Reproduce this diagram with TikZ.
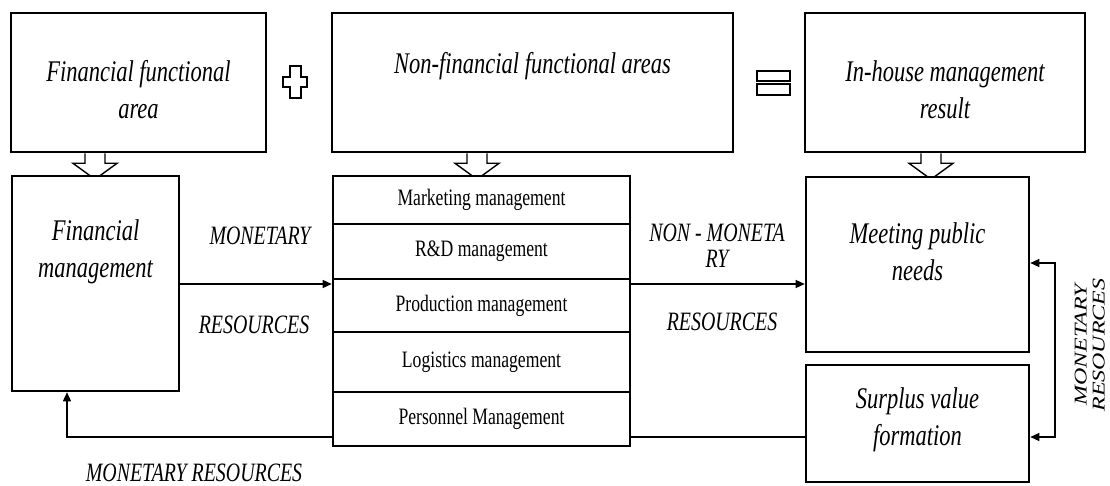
\documentclass[tikz,border=0pt]{standalone}
\usepackage{fontspec}
\setmainfont{Liberation Serif}[FakeStretch=0.75]
\newfontfamily\rotfont{Liberation Serif}
\usetikzlibrary{arrows.meta,backgrounds}
\begin{document}
\begin{tikzpicture}[x=1pt,y=-1pt,
  box/.style={draw, line width=2.6pt, fill=white, inner sep=0pt},
  itlbl/.style={font=\fontsize{30}{37}\selectfont\itshape, align=center},
  caplbl/.style={font=\fontsize{26.5}{26}\selectfont\itshape, align=center},
  rowbox/.style={draw, line width=2.6pt, fill=white, minimum width=297pt, font=\fontsize{23.5}{26}\selectfont, inner sep=0pt},
  tipa/.tip={Triangle[length=9pt,width=8pt]},
  conn/.style={line width=1.3pt, -tipa},
  hdown/.pic={\draw[line width=1.4pt, line join=miter] (-10,0) -- (-10,10) -- (-22,10) -- (0,26) -- (22,10) -- (10,10) -- (10,0);},
]
\useasboundingbox (0,0) rectangle (1110,486);
\clip (0,0) rectangle (1110,486);

% top row
\node[box, minimum width=255pt, minimum height=139pt] (fa) at (138.5,82.5) {};
\node[itlbl] (fat) at (138.5,90) {Financial functional\\area};
\node[box, minimum width=401pt, minimum height=139pt] (nfa) at (532.5,82.5) {};
\node[itlbl] (nfat) at (532.5,66) {Non-financial functional areas};
\node[box, minimum width=280pt, minimum height=139pt] (ih) at (945,82.5) {};
\node[itlbl] (iht) at (945,90) {In-house management\\result};

% plus and equals
\draw[line width=2pt] (289.5,66) -- (300.5,66) -- (300.5,77) -- (307,77) -- (307,87) -- (300.5,87) -- (300.5,98) -- (289.5,98) -- (289.5,87) -- (283,87) -- (283,77) -- (289.5,77) -- cycle;
\draw[line width=2.5pt] (757,71) rectangle (790,81);
\draw[line width=2.5pt] (757,84) rectangle (790,95);

% hollow arrows
\path (fa.south) ++(-43.5,0) pic {hdown};
\path (nfa.south) ++(-55.5,0) pic {hdown};
\path (ih.south) ++(-14,0) pic {hdown};

% second row
\node[box, minimum width=167pt, minimum height=215pt] (fm) at (95.5,283.5) {};
\node[itlbl] (fmt) at (95.5,252) {Financial\\management};

\node[rowbox, minimum height=48pt] (mk) at (481.5,200) {Marketing management};
\node[rowbox, minimum height=55pt] (rd) at (481.5,251.5) {R\&D management};
\node[rowbox, minimum height=53pt] (pr) at (481.5,305.5) {Production management};
\node[rowbox, minimum height=60pt] (lg) at (481.5,362) {Logistics management};
\node[rowbox, minimum height=54pt] (ps) at (481.5,419) {Personnel Management};

\node[box, minimum width=223pt, minimum height=175pt] (mpn) at (917.5,264.5) {};
\node[itlbl] (mpnt) at (917.5,252) {Meeting public\\needs};
\node[box, minimum width=223pt, minimum height=117pt] (sv) at (917.5,423.5) {};
\node[itlbl] (svt) at (917.5,420) {Surplus value\\formation};

% labels
\node[caplbl] (l1) at (260,236) {MONETARY};
\node[caplbl] (l2) at (254,325) {RESOURCES};
\node[caplbl] (l3) at (194,473) {MONETARY RESOURCES};
\node[caplbl] (l4) at (717,246) {NON - MONETA\\RY};
\node[caplbl] (l5) at (722,322) {RESOURCES};
\node[rotate=90, inner sep=0pt, font=\rotfont\fontsize{24}{24}\selectfont\itshape] (l6) at (1092,345) {\scalebox{1}[0.75]{\begin{tabular}{@{}c@{}}MONETARY\\RESOURCES\end{tabular}}};

% connectors
\coordinate (ya) at (0,284);
\coordinate (yb) at (0,437);
\coordinate (yc) at (0,263);
\coordinate (xr) at (67,0);
\coordinate (xb) at (1055,0);
\draw[conn] (fm.east |- ya) -- (pr.west |- ya);
\draw[conn] (pr.east |- ya) -- (mpn.west |- ya);
\begin{pgfonlayer}{background}
\draw[conn] (sv.west |- yb) -- (xr |- yb) -- (xr |- fm.south);
\end{pgfonlayer}
\draw[line width=1.3pt, tipa-tipa] (mpn.east |- yc) -- (xb |- yc) -- (xb |- yb) -- (sv.east |- yb);
\end{tikzpicture}
\end{document}
